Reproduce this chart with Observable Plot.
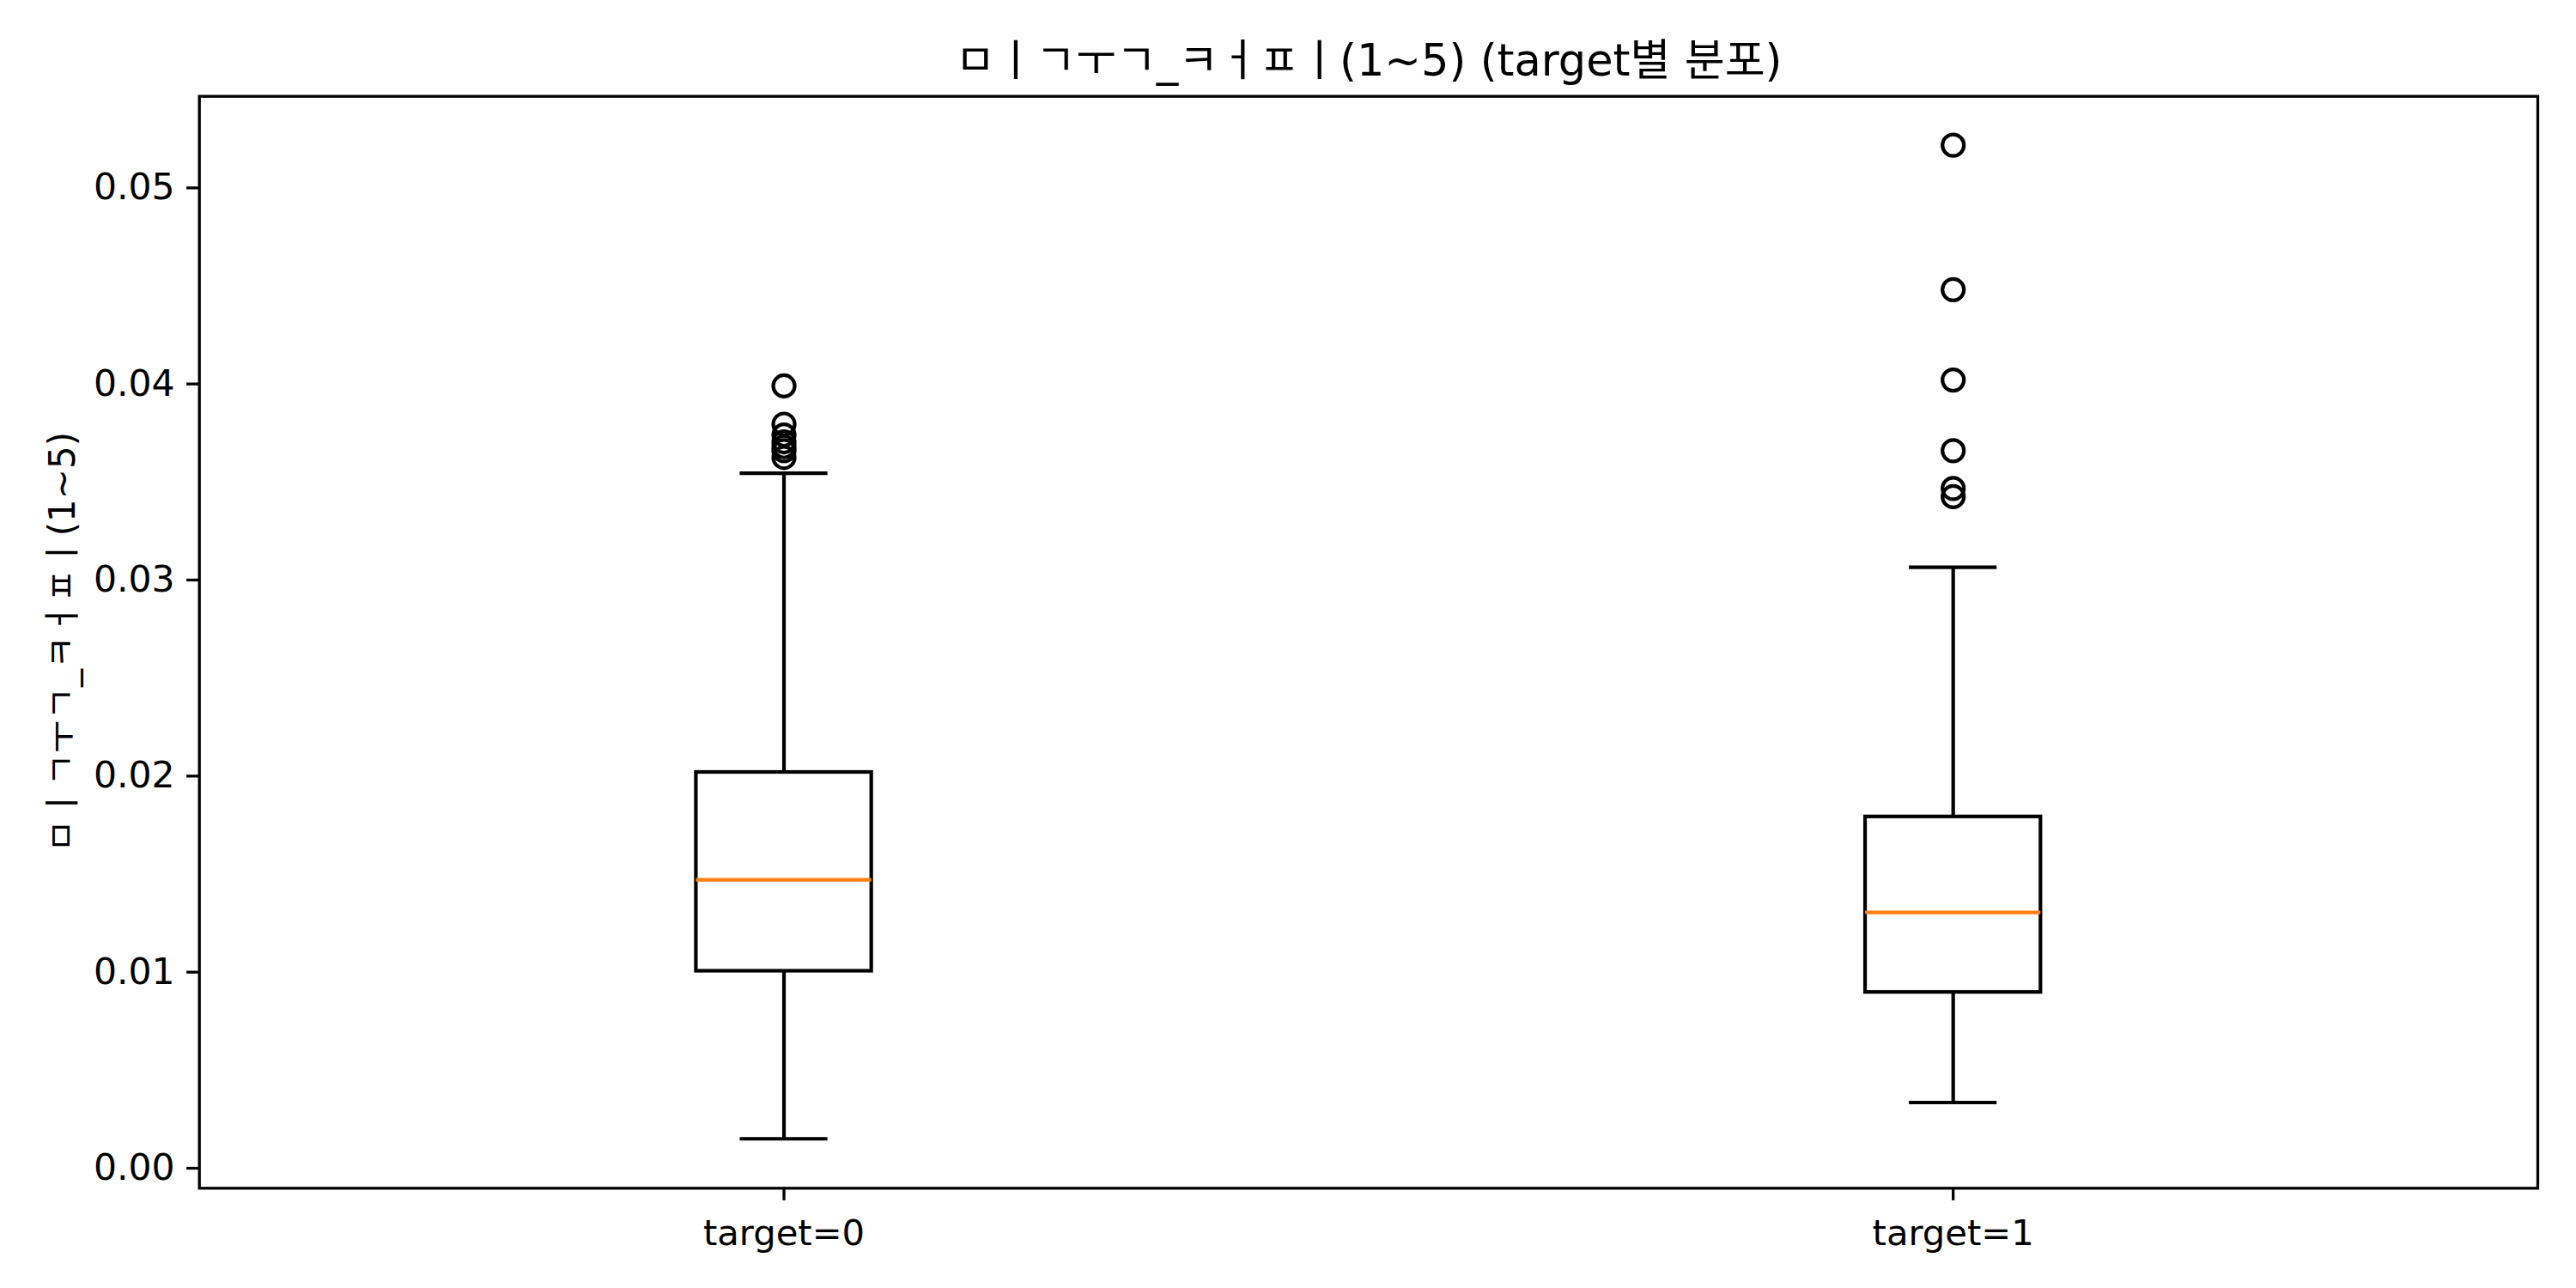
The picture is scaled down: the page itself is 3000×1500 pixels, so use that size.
<!DOCTYPE html>
<html>
<head>
<meta charset="utf-8">
<script src="https://cdn.jsdelivr.net/npm/d3@7"></script>
<script src="https://cdn.jsdelivr.net/npm/@observablehq/plot@0.6"></script>
<style>
  html, body { margin: 0; padding: 0; background: white; }
</style>
</head>
<body>
<div id="chart"></div>
<script>
const titleText = "ㅁㅣㄱㅜㄱ_ㅋㅓㅍㅣ(1~5) (target별 분포)";
const yLabel = "ㅁㅣㄱㅜㄱ_ㅋㅓㅍㅣ(1~5)";
const categories = ["target=0", "target=1"];
const q1 = [0.01005, 0.00897];
const median = [0.01471, 0.01305];
const q3 = [0.02019, 0.01792];
const whiskerLow = [0.00150, 0.00335];
const whiskerHigh = [0.03545, 0.03065];
const outliers0 = [0.03990, 0.03795, 0.03740, 0.03705, 0.03680, 0.03660, 0.03625];
const outliers1 = [0.05218, 0.04481, 0.04020, 0.03660, 0.03467, 0.03425];
const yTicks = [0, 0.01, 0.02, 0.03, 0.04, 0.05];

const boxes = categories.map((c, i) => ({
  cat: c, pos: i + 1, q1: q1[i], med: median[i], q3: q3[i], lo: whiskerLow[i], hi: whiskerHigh[i]
}));
const outlierRows = [
  ...outliers0.map(v => ({pos: 1, v})),
  ...outliers1.map(v => ({pos: 2, v}))
];

const halfBox = 0.075, halfCap = 0.0375;
const font = "'DejaVu Sans', 'Noto Sans CJK KR', sans-serif";

const chart = Plot.plot({
  width: 3000,
  height: 1500,
  marginLeft: 231.7,
  marginRight: 45,
  marginTop: 111.7,
  marginBottom: 116.7,
  style: {fontFamily: font, background: "white", color: "black"},
  x: {type: "linear", domain: [0.5, 2.5]},
  y: {domain: [-0.00102, 0.05467]},
  marks: [
    Plot.axisY({ticks: yTicks, tickFormat: d3.format(".2f"), tickSize: 14.6, tickPadding: 14, fontSize: 42.5, strokeWidth: 3.3, label: null}),
    Plot.axisX({ticks: [1, 2], tickFormat: d => categories[d - 1], tickSize: 14.6, tickPadding: 22, fontSize: 41.7, strokeWidth: 3.3, label: null}),
    // whiskers
    Plot.ruleX(boxes, {x: "pos", y1: "q3", y2: "hi", stroke: "black", strokeWidth: 4.2}),
    Plot.ruleX(boxes, {x: "pos", y1: "lo", y2: "q1", stroke: "black", strokeWidth: 4.2}),
    // caps
    Plot.ruleY(boxes, {y: "hi", x1: d => d.pos - halfCap, x2: d => d.pos + halfCap, stroke: "black", strokeWidth: 4.2}),
    Plot.ruleY(boxes, {y: "lo", x1: d => d.pos - halfCap, x2: d => d.pos + halfCap, stroke: "black", strokeWidth: 4.2}),
    // boxes
    Plot.rect(boxes, {x1: d => d.pos - halfBox, x2: d => d.pos + halfBox, y1: "q1", y2: "q3", fill: "none", stroke: "black", strokeWidth: 4.2}),
    // medians
    Plot.ruleY(boxes, {y: "med", x1: d => d.pos - halfBox, x2: d => d.pos + halfBox, stroke: "#ff7f0e", strokeWidth: 4.2}),
    // outliers
    Plot.dot(outlierRows, {x: "pos", y: "v", r: 12.5, fill: "none", stroke: "black", strokeWidth: 4.2}),
    Plot.frame({stroke: "black", strokeWidth: 3.3}),
    Plot.text([titleText], {frameAnchor: "top", dy: -40.7, fontSize: 51, lineAnchor: "middle", textAnchor: "middle", fill: "black"}),
    Plot.text([yLabel], {frameAnchor: "left", dx: -158.7, rotate: -90, fontSize: 42, lineAnchor: "middle", textAnchor: "middle", fill: "black"})
  ]
});
document.getElementById("chart").appendChild(chart);
</script>
</body>
</html>
